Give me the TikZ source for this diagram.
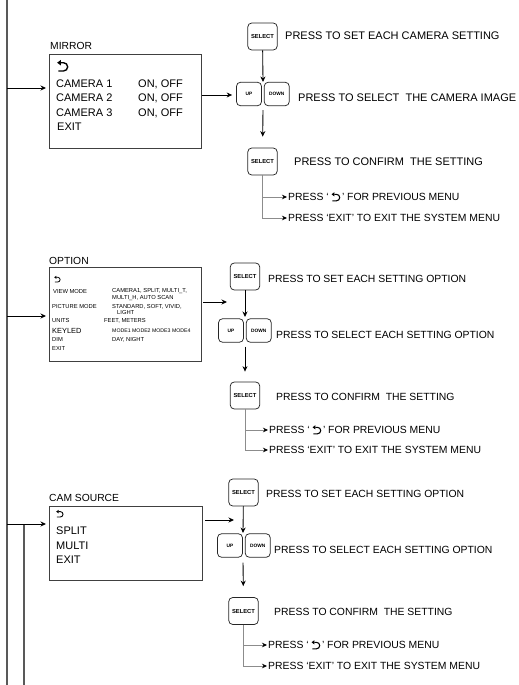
\documentclass[tikz,border=0pt]{standalone}
\usepackage{fontspec}
\setmainfont{Liberation Sans}
\usetikzlibrary{arrows.meta,positioning}
\tikzset{
  >={Stealth[length=5.5pt,width=5pt]},
  menu/.style={
    draw=black!75, line width=0.9pt, anchor=north west, inner sep=0pt,
    minimum width=152pt
  },
  title/.style={anchor=base west, inner sep=0pt, font=\fontsize{10.3}{12}\selectfont},
  item/.style={anchor=base west, inner sep=0pt, font=\fontsize{11}{12}\selectfont},
  tiny/.style={anchor=base west, inner sep=0pt, font=\fontsize{5.8}{6}\selectfont},
  key/.style={
    draw=black!85, rounded corners=4pt, line width=0.75pt, inner sep=0pt,
    font=\fontsize{5.8}{6}\selectfont\bfseries
  },
  selkey/.style={key, minimum width=29.5pt, minimum height=27pt},
  arrowkey/.style={key, minimum width=25pt, minimum height=23.5pt, font=\fontsize{4.8}{5}\selectfont\bfseries},
  note/.style={anchor=base west, inner sep=0pt, font=\fontsize{11}{12}\selectfont},
  notesm/.style={anchor=base west, inner sep=0pt, font=\fontsize{10.4}{12}\selectfont},
  hint/.style={anchor=west, inner sep=0pt, text height=7.6pt, text depth=0pt, font=\fontsize{10.4}{12}\selectfont},
  feed/.style={->, line width=0.85pt},
  branch/.style={draw=black!45, line width=0.6pt, -{Stealth[length=5pt,width=4.5pt,color=black]}, shorten >=1pt},
  bus/.style={draw=black!65, line width=1.6pt},
}
\newcommand{\backicon}[1][1]{%
  \tikz[baseline=0pt, x=#1pt, y=#1pt]{
    \draw[line width=#1*1.2pt] (1,0) -- (5.5,0) arc(-90:90:3.6) -- (3,7.2);
    \fill (0,7.2) -- (3.2,9.6) -- (3.2,4.8) -- cycle;
  }%
}

\begin{document}
\begin{tikzpicture}[x=1pt,y=-1pt]
  \useasboundingbox (0,0) rectangle (519,685);
  \coordinate (top) at (7,0);
  \coordinate (bottom) at (7,685);
  \draw[bus] (top) -- (bottom);

  % MIRROR
  \node[menu, minimum height=94pt] (mirror) at (49,54) {};
  \node[title] (mirrort) at (50,50) {MIRROR};
  \node[item] (mback) at (57,71) {\backicon[1.15]};
  \node[item] (mcam1) at (56,87) {CAMERA 1};
  \node[item] (mon1) at (138,87) {ON, OFF};
  \node[item] (mcam2) at (56,101.5) {CAMERA 2};
  \node[item] (mon2) at (138,101.5) {ON, OFF};
  \node[item] (mcam3) at (56,116) {CAMERA 3};
  \node[item] (mon3) at (138,116) {ON, OFF};
  \node[item] (mexit) at (57,130) {EXIT};

  \node[selkey] (msel) at (262.5,36.5) {SELECT};
  \node[note] (mnote1) at (285,40) {PRESS TO SET EACH CAMERA SETTING};
  \node[arrowkey] (mup) at (249,94) {UP};
  \node[arrowkey, right=2pt of mup] (mdown) {DOWN};
  \node[note] (mnote2) at (298,101.5) {PRESS TO SELECT\ \ THE CAMERA IMAGE};
  \node[selkey] (mok) at (262.5,161.5) {SELECT};
  \node[note] (mnote3) at (294,165.5) {PRESS TO CONFIRM\ \ THE SETTING};
  \node[hint] (mprev) at (288,197) {PRESS `\ \backicon[0.9]\,' FOR PREVIOUS MENU};
  \node[hint] (mquit) at (288,218) {PRESS `EXIT' TO EXIT THE SYSTEM MENU};

  \coordinate (mbus) at (7,88);
  \coordinate (mout) at (202,95);
  \coordinate (mjoin) at (263,82);
  \draw[feed, shorten >=3pt] (mbus) -- (mbus -| mirror.west);
  \draw[feed, shorten >=4pt] (mout) -- (mout -| mup.west);
  \draw[feed] (msel) -- (mjoin);
  \draw[feed, shorten <=4pt, shorten >=11pt] (mjoin |- mup.south) -- (mok);
  \draw[branch] (mok.south) |- (mprev.west);
  \draw[branch] (mok.south) |- (mquit.west);

  % OPTION
  \node[menu, minimum height=94pt] (option) at (49,267) {};
  \node[title] (optiont) at (49,264) {OPTION};
  \node[item] (oback) at (54,282) {\backicon[0.65]};
  \node[tiny] (oview) at (53,293) {VIEW MODE};
  \node[tiny] (oviewa) at (112,292.5) {CAMERA1, SPLIT, MULTI\_T,};
  \node[tiny] (oviewb) at (112,299) {MULTI\_H, AUTO SCAN};
  \node[tiny] (opic) at (52,308) {PICTURE MODE};
  \node[tiny] (opica) at (112,308) {STANDARD, SOFT, VIVID,};
  \node[tiny] (opicb) at (117,314) {LIGHT};
  \node[tiny] (ounit) at (52,322) {UNITS};
  \node[tiny] (ounita) at (104,322) {FEET, METERS};
  \node[tiny, font=\fontsize{7.4}{8}\selectfont] (okey) at (52,333) {KEYLED};
  \node[tiny, font=\fontsize{5.2}{6}\selectfont] (okeya) at (112,332) {MODE1 MODE2 MODE3 MODE4};
  \node[tiny] (odim) at (52,341.5) {DIM};
  \node[tiny] (odima) at (112,341.5) {DAY, NIGHT};
  \node[tiny] (oexit) at (52,350.5) {EXIT};

  \node[selkey] (osel) at (245,276.5) {SELECT};
  \node[notesm] (onote1) at (268,282) {PRESS TO SET EACH SETTING OPTION};
  \node[arrowkey] (oup) at (231,330.5) {UP};
  \node[arrowkey, right=2pt of oup] (odown) {DOWN};
  \node[notesm] (onote2) at (276,338) {PRESS TO SELECT EACH SETTING OPTION};
  \node[selkey] (ook) at (245,395.5) {SELECT};
  \node[notesm] (onote3) at (276,400) {PRESS TO CONFIRM\ \ THE SETTING};
  \node[hint] (oprev) at (269,430) {PRESS `\ \backicon[0.9]\,' FOR PREVIOUS MENU};
  \node[hint] (oquit) at (269,450) {PRESS `EXIT' TO EXIT THE SYSTEM MENU};

  \coordinate (obus) at (7,316);
  \coordinate (oout) at (203,302);
  \coordinate (ojoin) at (245,317);
  \draw[feed, shorten >=3pt] (obus) -- (obus -| option.west);
  \draw[feed, shorten >=18pt] (oout) -- (oout -| ojoin);
  \draw[feed] (osel) -- (ojoin);
  \draw[feed, shorten <=4pt, shorten >=10pt] (ojoin |- oup.south) -- (ook);
  \draw[branch] (ook.south) |- (oprev.west);
  \draw[branch] (ook.south) |- (oquit.west);

  % CAM SOURCE
  \node[menu, minimum height=74pt, minimum width=153pt] (source) at (49,506) {};
  \node[title] (sourcet) at (49,501) {CAM SOURCE};
  \node[item] (sback) at (56,517) {\backicon[0.75]};
  \node[item] (ssplit) at (56,534) {SPLIT};
  \node[item] (smulti) at (56,549) {MULTI};
  \node[item] (sexit) at (56,563) {EXIT};

  \node[selkey] (ssel) at (243.5,492.5) {SELECT};
  \node[notesm] (snote1) at (266,497) {PRESS TO SET EACH SETTING OPTION};
  \node[arrowkey] (sup) at (230,545.5) {UP};
  \node[arrowkey, right=2pt of sup] (sdown) {DOWN};
  \node[notesm] (snote2) at (274,553) {PRESS TO SELECT EACH SETTING OPTION};
  \node[selkey] (sok) at (243.5,611) {SELECT};
  \node[notesm] (snote3) at (274,615) {PRESS TO CONFIRM\ \ THE SETTING};
  \node[hint] (sprev) at (268,645) {PRESS `\ \backicon[0.9]\,' FOR PREVIOUS MENU};
  \node[hint] (squit) at (268,666) {PRESS `EXIT' TO EXIT THE SYSTEM MENU};

  \coordinate (sbus) at (7,524);
  \coordinate (stap) at (24,524);
  \coordinate (send) at (24,685);
  \coordinate (sout) at (205,520);
  \coordinate (sjoin) at (243,533);
  \draw[bus] (stap) -- (send);
  \draw[feed, shorten >=3pt] (sbus) -- (sbus -| source.west);
  \draw[feed, shorten >=9pt] (sout) -- (sout -| sjoin);
  \draw[feed] (ssel) -- (sjoin);
  \draw[feed, shorten <=5pt, shorten >=11pt] (sjoin |- sup.south) -- (sok);
  \draw[branch] (sok.south) |- (sprev.west);
  \draw[branch] (sok.south) |- (squit.west);
\end{tikzpicture}
\end{document}
